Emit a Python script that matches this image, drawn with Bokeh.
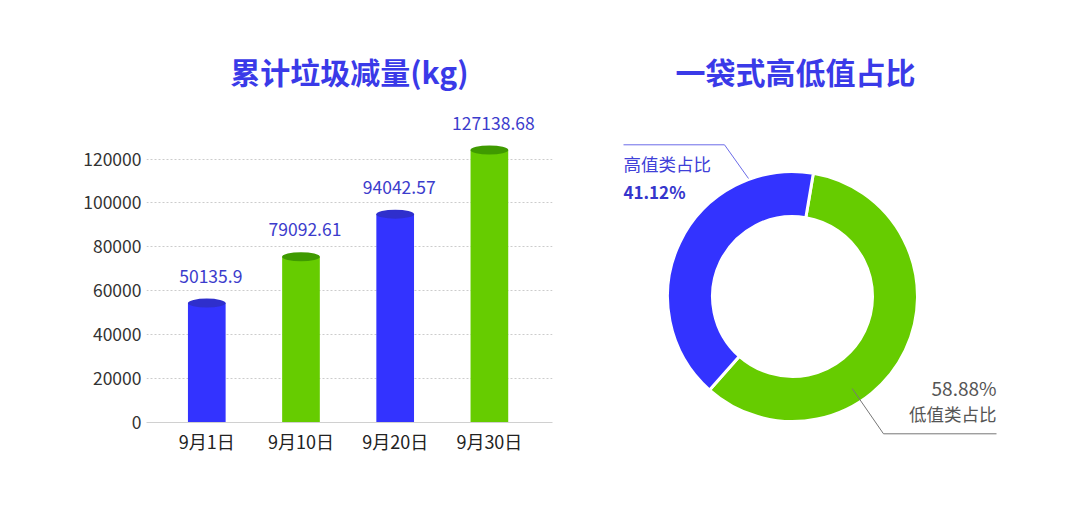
from bokeh.plotting import figure
from bokeh.layouts import row
from bokeh.models import Range1d, FixedTicker, BasicTickFormatter
from bokeh.core.properties import value
from bokeh.embed import file_html
from bokeh.resources import INLINE
import math

# ---------------- data ----------------
dates = ["9月1日", "9月10日", "9月20日", "9月30日"]
label_values = [50135.9, 79092.61, 94042.57, 127138.68]
bar_heights = [54400, 75500, 94900, 124100]   # drawn bar heights
y_ticks = [0, 20000, 40000, 60000, 80000, 100000, 120000]
share_names = ["低值类占比", "高值类占比"]
share_values = [58.88, 41.12]

FONT = "Noto Sans CJK SC"
BLUE = "#3333ff"
GREEN = "#66cc00"
BLUE_CAP = "#2f2fcc"
GREEN_CAP = "#3f9a00"
TITLE_COLOR = "#3a3ae8"

# ---------------- bar chart ----------------
xs = list(range(len(dates)))
bar_colors = [BLUE, GREEN, BLUE, GREEN]
cap_colors = [BLUE_CAP, GREEN_CAP, BLUE_CAP, GREEN_CAP]

p = figure(width=588, height=503, x_range=Range1d(-0.64, 3.67), y_range=Range1d(0, 146200),
           output_backend="svg", toolbar_location=None, title="累计垃圾减量(kg)",
           min_border_left=146, min_border_right=36, min_border_top=101, min_border_bottom=81)
p.frame_align = False
p.outline_line_color = None
p.title.text_font = FONT
p.title.text_font_size = "30px"
p.title.text_font_style = "bold"
p.title.text_color = TITLE_COLOR
p.title.align = "center"
p.title.standoff = 17

p.vbar(x=xs, top=bar_heights, bottom=0, width=0.4, fill_color=bar_colors, line_color=None)
p.ellipse(x=xs, y=bar_heights, width=0.4, height=9, height_units="screen",
          fill_color=cap_colors, line_color=None)
p.text(x=xs, y=bar_heights, text=[str(v) for v in label_values], text_align="center",
       text_baseline="middle", x_offset=4, y_offset=-27, text_font=value(FONT),
       text_font_size="17.5px", text_color="#3c3ccc")

p.xaxis.ticker = FixedTicker(ticks=xs)
p.xaxis.major_label_overrides = {i: d for i, d in enumerate(dates)}
p.xaxis.axis_line_color = "#d0d0d0"
p.xaxis.major_tick_line_color = None
p.xaxis.major_tick_out = 0
p.xaxis.major_tick_in = 0
p.xaxis.minor_tick_line_color = None
p.xaxis.major_label_standoff = 5
p.xaxis.major_label_text_font = FONT
p.xaxis.major_label_text_font_size = "18px"
p.xaxis.major_label_text_color = "#222222"

p.yaxis.ticker = FixedTicker(ticks=y_ticks)
p.yaxis.formatter = BasicTickFormatter(use_scientific=False)
p.yaxis.axis_line_color = None
p.yaxis.major_tick_line_color = None
p.yaxis.major_tick_out = 0
p.yaxis.major_tick_in = 0
p.yaxis.minor_tick_line_color = None
p.yaxis.major_label_standoff = 5
p.yaxis.major_label_text_font = FONT
p.yaxis.major_label_text_font_size = "17.5px"
p.yaxis.major_label_text_color = "#333333"

p.xgrid.grid_line_color = None
p.ygrid.ticker = FixedTicker(ticks=y_ticks)
p.ygrid.grid_line_color = "#cccccc"
p.ygrid.grid_line_dash = "2 2"

# ---------------- donut chart ----------------
q = figure(width=484, height=503, x_range=Range1d(0, 414), y_range=Range1d(0, 402),
           output_backend="svg", toolbar_location=None, title="一袋式高低值占比",
           x_axis_location=None, y_axis_location=None,
           min_border_left=0, min_border_right=70, min_border_top=101, min_border_bottom=0)
q.frame_align = False
q.outline_line_color = None
q.grid.visible = False
q.title.text_font = FONT
q.title.text_font_size = "30px"
q.title.text_font_style = "bold"
q.title.text_color = TITLE_COLOR
q.title.align = "center"
q.title.standoff = 17

cx, cy = 204, 207
start_deg = 80.4
total = sum(share_values)
starts, ends = [], []
a = start_deg
for v in share_values:
    starts.append(math.radians(a))
    a -= v / total * 360.0
    ends.append(math.radians(a))

q.annular_wedge(x=cx, y=cy, inner_radius=80, outer_radius=125, start_angle=starts, end_angle=ends,
                direction="clock", fill_color=[GREEN, BLUE], line_color="white", line_width=3)

# leader lines
q.line(x=[35, 136, 160], y=[358.7, 358.7, 325], line_color="#6b6be8", line_width=1)
q.line(x=[263.7, 295, 408], y=[115, 69.7, 69.7], line_color="#777777", line_width=1)

# labels
q.text(x=[35], y=[340], text=[share_names[1]], text_align="left", text_baseline="middle",
       text_font=value(FONT), text_font_size="17.5px", text_color="#4040d8")
q.text(x=[35], y=[312], text=[f"{share_values[1]:.2f}%"], text_align="left", text_baseline="middle",
       text_font=value(FONT), text_font_size="17px", text_font_style="bold", text_color="#3535cc")
q.text(x=[408], y=[116.3], text=[f"{share_values[0]:.2f}%"], text_align="right", text_baseline="middle",
       text_font=value(FONT), text_font_size="19px", text_color="#555555")
q.text(x=[408], y=[90.3], text=[share_names[0]], text_align="right", text_baseline="middle",
       text_font=value(FONT), text_font_size="17.5px", text_color="#555555")

layout = row(p, q)
open("out.html", "w").write(file_html(layout, INLINE))
